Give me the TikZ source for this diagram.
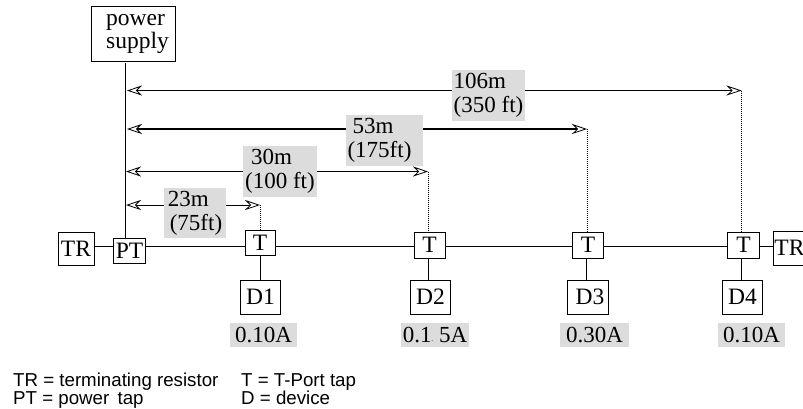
\documentclass[tikz,border=0pt]{standalone}
\usepackage{fontspec}
\setmainfont{Liberation Serif}
\setsansfont{Liberation Sans}
\usetikzlibrary{arrows.meta}
\definecolor{hgrey}{RGB}{220,220,220}
\tikzset{
wire/.style={line width=1pt},
box/.style={draw,wire,inner sep=0pt,font=\fontsize{23.5}{23}\selectfont},
lab/.style={fill=hgrey,inner sep=0pt,align=left,font=\fontsize{23}{24}\selectfont},
key/.style={anchor=base west,inner sep=0pt,font=\sffamily\fontsize{18.7}{19}\selectfont},
dim/.style={wire,{Stealth[open,length=15pt,width=10pt,inset=5pt,fill=white,line width=.8pt]}-{Stealth[open,length=15pt,width=10pt,inset=5pt,fill=white,line width=.8pt]}},
}
\begin{document}
\begin{tikzpicture}[x=1pt,y=-1pt]
\useasboundingbox (0,0) rectangle (803,408);
% main line
\node[box,minimum width=84pt,minimum height=55pt,align=left] (ps) at (133,33.5) {\hspace{9pt}power\\\hspace{9pt}supply};
\node[box,minimum width=36pt,minimum height=33pt] (tr1) at (76,248.5) {TR};
\node[box,minimum width=32pt,minimum height=25pt] (pt) at (129.5,250.5) {PT};
\node[box,minimum width=30pt,minimum height=25pt] (t1) at (260,243) {T};
\node[box,minimum width=31pt,minimum height=26pt] (t2) at (429.5,245) {T};
\node[box,minimum width=31pt,minimum height=26pt] (t3) at (588,245) {T};
\node[box,minimum width=32pt,minimum height=26pt] (t4) at (743.5,245) {T};
\node[box,minimum width=32pt,minimum height=34pt,anchor=west] (tr2) at (773,248) {TR};
\node[box,minimum width=40pt,minimum height=34pt] (d1) at (260.5,297) {D1\hspace{4pt}};
\node[box,minimum width=40pt,minimum height=34pt] (d2) at (430.5,297) {D2\hspace{7pt}};
\node[box,minimum width=41pt,minimum height=34pt] (d3) at (588,297) {\hspace{4pt}D3};
\node[box,minimum width=40pt,minimum height=34pt] (d4) at (742.5,297) {D4\hspace{6pt}};
\draw[wire] (tr1.east|-0,246.5) -- (pt.west|-0,246.5);
\draw[wire] (pt.east|-0,246.5) -- (t1.west|-0,246.5);
\draw[wire] (t1.east|-0,246.5) -- (t2.west|-0,246.5);
\draw[wire] (t2.east|-0,246.5) -- (t3.west|-0,246.5);
\draw[wire] (t3.east|-0,246.5) -- (t4.west|-0,246.5);
\draw[wire] (t4.east|-0,246.5) -- (tr2.west|-0,246.5);
\coordinate (top) at (125.5,63);
\draw[wire] (top) -- (top|-pt.north);
\draw[wire] (d1.north-|260.5,0) -- (t1.south-|260.5,0);
\draw[wire] (d2.north-|428.5,0) -- (t2.south-|428.5,0);
\draw[wire] (d3.north-|586.5,0) -- (t3.south-|586.5,0);
\draw[wire] (d4.north-|741.5,0) -- (t4.south-|741.5,0);
% distances
\coordinate (a1) at (127,90.5);
\coordinate (b1) at (741.5,90.5);
\coordinate (a2) at (127,129);
\coordinate (b2) at (587,129);
\coordinate (a3) at (126,171.5);
\coordinate (b3) at (428,171.5);
\coordinate (a4) at (126,205);
\coordinate (b4) at (260,205);
\draw[dim] (a1) -- (b1);
\draw[dim,line width=1.8pt] (a2) -- (b2);
\draw[dim] (a3) -- (b3);
\draw[dim] (a4) -- (b4);
\draw[densely dotted,wire] (b1) -- (b1|-t4.north);
\draw[densely dotted,wire] (b2) -- (b2|-t3.north);
\draw[densely dotted,wire] (b3) -- (b3|-t2.north);
\draw[densely dotted,wire] (b4) -- (b4|-t1.north);
\node[lab,minimum width=73pt,minimum height=51pt] (l1) at (488.5,95.5) {106m\\(350 ft)};
\node[lab,minimum width=77pt,minimum height=51pt] (l2) at (384.5,140) {\hspace{5pt}53m\\\hbox{(175ft)\hspace{10pt}}};
\node[lab,minimum width=74pt,minimum height=51pt] (l3) at (280,171.5) {\hspace{6pt}30m\\(100 ft)};
\node[lab,minimum width=62pt,minimum height=50pt] (l4) at (195,213) {23m\\\hspace{2pt}(75ft)};
% currents
\node[lab,minimum width=67pt,minimum height=24pt] (c1) at (263.5,335) {0.10A};
\node[lab,minimum width=68pt,minimum height=24pt] (c2) at (435,335) {0.1{\tiny-} 5A};
\node[lab,minimum width=69pt,minimum height=24pt] (c3) at (594.5,335) {0.30A};
\node[lab,minimum width=67pt,minimum height=24pt] (c4) at (751.5,335) {0.10A};
% legend
\node[key] (k1) at (13,386) {TR = terminating resistor};
\node[key] (k2) at (13,404) {PT = power\, tap};
\node[key] (k3) at (241,386) {T = T-Port tap};
\node[key] (k4) at (241,404) {D = device};
\end{tikzpicture}
\end{document}
